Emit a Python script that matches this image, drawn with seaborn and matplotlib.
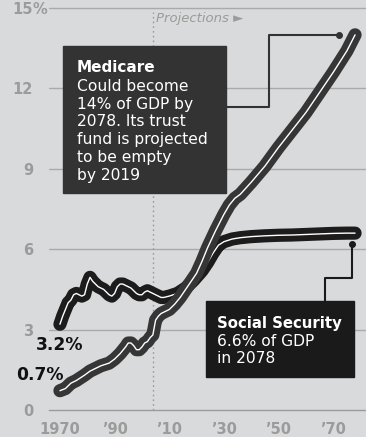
import matplotlib
matplotlib.use("Agg")
import matplotlib.pyplot as plt
import seaborn as sns
from matplotlib.patches import Rectangle

# data (% of GDP)
ss_years = [1970, 1971, 1972, 1973, 1974, 1975, 1976, 1977, 1978, 1979, 1980, 1981,
            1982, 1983, 1984, 1985, 1986, 1987, 1988, 1989, 1990, 1991, 1992, 1993,
            1994, 1995, 1996, 1997, 1998, 1999, 2000, 2001, 2002, 2003, 2004, 2005,
            2006, 2007, 2008, 2010, 2013, 2016, 2019, 2022, 2024, 2026, 2028, 2030,
            2033, 2036, 2040, 2045, 2050, 2055, 2060, 2065, 2070, 2075, 2078]
ss_vals = [3.2, 3.5, 3.75, 4.0, 4.1, 4.3, 4.35, 4.3, 4.25, 4.3, 4.7, 4.95,
           4.8, 4.7, 4.6, 4.55, 4.5, 4.4, 4.3, 4.25, 4.35, 4.6, 4.7, 4.7,
           4.65, 4.6, 4.55, 4.45, 4.35, 4.3, 4.3, 4.4, 4.45, 4.4, 4.35, 4.3,
           4.25, 4.2, 4.2, 4.25, 4.35, 4.55, 4.85, 5.2, 5.5, 5.85, 6.15, 6.28,
           6.38, 6.43, 6.47, 6.5, 6.52, 6.53, 6.55, 6.57, 6.59, 6.6, 6.6]

med_years = [1970, 1972, 1974, 1976, 1979, 1981, 1983, 1985, 1988, 1990, 1992, 1994,
             1995, 1996, 1997, 1998, 1999, 2000, 2001, 2002, 2003, 2004, 2005, 2006,
             2007, 2008, 2010, 2012, 2014, 2016, 2018, 2020, 2022, 2024, 2027, 2030,
             2032, 2034, 2036, 2040, 2045, 2050, 2055, 2060, 2065, 2070, 2075, 2078]
med_vals = [0.72, 0.8, 1.0, 1.1, 1.3, 1.45, 1.55, 1.65, 1.75, 1.9, 2.1, 2.35,
            2.5, 2.5, 2.4, 2.25, 2.25, 2.35, 2.5, 2.55, 2.7, 2.8, 3.35, 3.5,
            3.6, 3.65, 3.75, 3.95, 4.2, 4.5, 4.8, 5.1, 5.55, 6.05, 6.7, 7.3,
            7.65, 7.9, 8.05, 8.5, 9.1, 9.8, 10.45, 11.1, 11.85, 12.6, 13.4, 14.0]

y_ticks = [0, 3, 6, 9, 12, 15]
y_labels = ["0", "3", "6", "9", "12", "15"]
x_ticks = list(range(1970, 2081, 5))
x_labels = {1970: "1970", 1990: "\u201990", 2010: "\u201910", 2030: "\u201930",
            2050: "\u201950", 2070: "\u201970"}
proj_start = 2004

med_title = "Medicare"
med_lines = ["Could become", "14% of GDP by", "2078. Its trust",
             "fund is projected", "to be empty", "by 2019"]
ss_title = "Social Security"
ss_lines = ["6.6% of GDP", "in 2078"]

bg = "#d9dadb"
grey = "#9b9b9b"
sns.set_style("white", {"axes.facecolor": bg, "figure.facecolor": bg})
plt.rcParams["font.family"] = ["DejaVu Sans"]

fig = plt.figure(figsize=(3.66, 4.37), dpi=100)
ax = fig.add_axes([0.1339, 0.0618, 0.8661, 0.9382])
ax.set_xlim(1966, 2082)
ax.set_ylim(0, 15.3)

for y in y_ticks[1:]:
    ax.axhline(y, color="#aaaaaa", lw=1.0, zorder=1)
ax.plot([proj_start, proj_start], [0, 14.85], color=grey, lw=1.0,
        linestyle=(0, (1.2, 2.2)), zorder=1)
ax.text(proj_start + 1.3, 14.6, "Projections \u25ba", color=grey, fontsize=9.5,
        fontstyle="italic", va="center", ha="left")

# social security then medicare on top
sns.lineplot(x=ss_years, y=ss_vals, ax=ax, color="#1c1c1c", lw=9.5,
             solid_capstyle="round", solid_joinstyle="round", zorder=3)
sns.lineplot(x=ss_years, y=ss_vals, ax=ax, color="white", lw=1.0,
             solid_joinstyle="round", zorder=3.1)
sns.lineplot(x=med_years, y=med_vals, ax=ax, color="#363636", lw=9.5,
             solid_capstyle="round", solid_joinstyle="round", zorder=4)
sns.lineplot(x=med_years, y=med_vals, ax=ax, color="white", lw=1.0,
             solid_joinstyle="round", zorder=4.1)

# start labels
ax.text(1969.9, 2.24, "3.2%", fontsize=12.3, fontweight="bold", color="#111",
        ha="center", va="baseline", zorder=5)
ax.text(1962.6, 1.12, "0.7%", fontsize=12.3, fontweight="bold", color="#111",
        ha="center", va="baseline", zorder=5, clip_on=False)

# medicare callout
step = 0.664
ax.add_patch(Rectangle((1971.1, 8.09), 59.75, 5.49, color="#333333", zorder=6))
ax.text(1976.1, 12.62, med_title, fontsize=11, fontweight="bold", color="white",
        va="baseline", zorder=7)
for i, line in enumerate(med_lines):
    ax.text(1976.1, 11.914 - i * step, line, fontsize=11.2, color="white",
            va="baseline", zorder=7)
ax.plot([2030.85, 2046.5, 2046.5, 2072.3], [11.31, 11.31, 14.0, 14.0],
        color="#333333", lw=1.5, zorder=6)
ax.plot([2072.3], [14.0], "o", color="#333333", ms=4, zorder=6)

# social security callout
ax.add_patch(Rectangle((2023.3, 1.24), 54.2, 2.84, color="#1a1a1a", zorder=6))
ax.text(2027.55, 3.05, ss_title, fontsize=10.7, fontweight="bold",
        color="white", va="baseline", zorder=7)
for i, line in enumerate(ss_lines):
    ax.text(2027.55, 2.388 - i * 0.645, line, fontsize=11.2, color="white",
            va="baseline", zorder=7)
ax.plot([2066.85, 2066.85, 2076.95, 2076.95], [4.08, 4.91, 4.91, 6.19],
        color="#1a1a1a", lw=1.5, zorder=6)
ax.plot([2076.95], [6.19], "o", color="#1a1a1a", ms=4, zorder=6)

# axes styling
for side in ["top", "right", "left"]:
    ax.spines[side].set_visible(False)
ax.spines["bottom"].set_color(grey)
ax.spines["bottom"].set_linewidth(1.0)
ax.set_yticks(y_ticks)
ax.set_yticklabels(y_labels)
ax.set_xticks(x_ticks)
ax.set_xticklabels([x_labels.get(t, "") for t in x_ticks])
ax.tick_params(axis="y", length=0, pad=11.5, labelsize=10.5, labelcolor=grey)
ax.tick_params(axis="x", length=7, width=1.0, color=grey, pad=1.5,
               labelsize=10.5, labelcolor=grey)
for lab in ax.get_xticklabels() + ax.get_yticklabels():
    lab.set_fontweight("bold")
ax.text(-0.0505, 15, "%", transform=ax.get_yaxis_transform(), ha="left",
        va="center_baseline", fontsize=10.5, fontweight="bold", color=grey)
ax.set_xlabel("")
ax.set_ylabel("")

fig.savefig("out.png", dpi=100, facecolor=bg)
